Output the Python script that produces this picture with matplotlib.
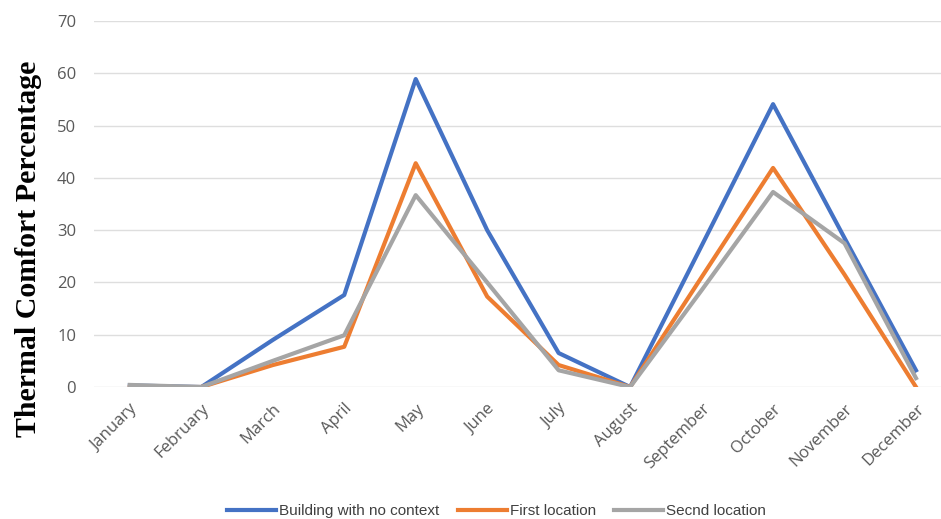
import matplotlib.pyplot as plt

months = ['January', 'February', 'March', 'April', 'May', 'June', 'July',
          'August', 'September', 'October', 'November', 'December']
no_context = [0.3, 0, 9, 17.6, 58.9, 30, 6.5, 0, 27, 54.1, 28.5, 3.2]
first_loc = [0, 0, 4.2, 7.7, 42.8, 17.3, 4.2, 0, 21, 41.9, 21.5, 0]
second_loc = [0.4, 0, 5, 9.9, 36.7, 20, 3.2, 0, 18.5, 37.3, 27.5, 1.7]

fig = plt.figure(figsize=(9.41, 5.19), dpi=100)
ax = fig.add_axes([0.1, 0.2543, 0.9, 0.7052])

x = range(len(months))
ax.plot(x, no_context, color='#4472C4', lw=3, label='Building with no context')
ax.plot(x, first_loc, color='#ED7D31', lw=3, label='First location')
ax.plot(x, second_loc, color='#A5A5A5', lw=3, label='Secnd location')

ax.set_xlim(-0.5, 11.35)
ax.set_ylim(0, 70)
ax.set_yticks(range(0, 71, 10))
ax.set_xticks(list(x))
ax.set_xticklabels(months, rotation=45, ha='right', rotation_mode='anchor')
ax.tick_params(length=0, labelsize=12, labelcolor='#595959', pad=10)
ax.tick_params(axis='y', pad=13)
for lbl in ax.get_xticklabels() + ax.get_yticklabels():
    lbl.set_fontfamily('Open Sans')
ax.grid(axis='y', color='#DEDEDE', lw=1)
ax.set_axisbelow(True)
for s in ax.spines.values():
    s.set_visible(False)

fig.text(0.03, 0.52, 'Thermal Comfort Percentage', rotation=90, ha='center',
         va='center', fontsize=21.5, fontweight='bold', family='Liberation Serif')

leg = fig.legend(loc='lower center', bbox_to_anchor=(0.528, -0.025), ncol=3,
                 frameon=False, prop={'family': 'Liberation Sans', 'size': 11},
                 handlelength=3.2, columnspacing=1.2, handletextpad=0.2)
for t in leg.get_texts():
    t.set_color('#404040')

fig.savefig('out.png')
